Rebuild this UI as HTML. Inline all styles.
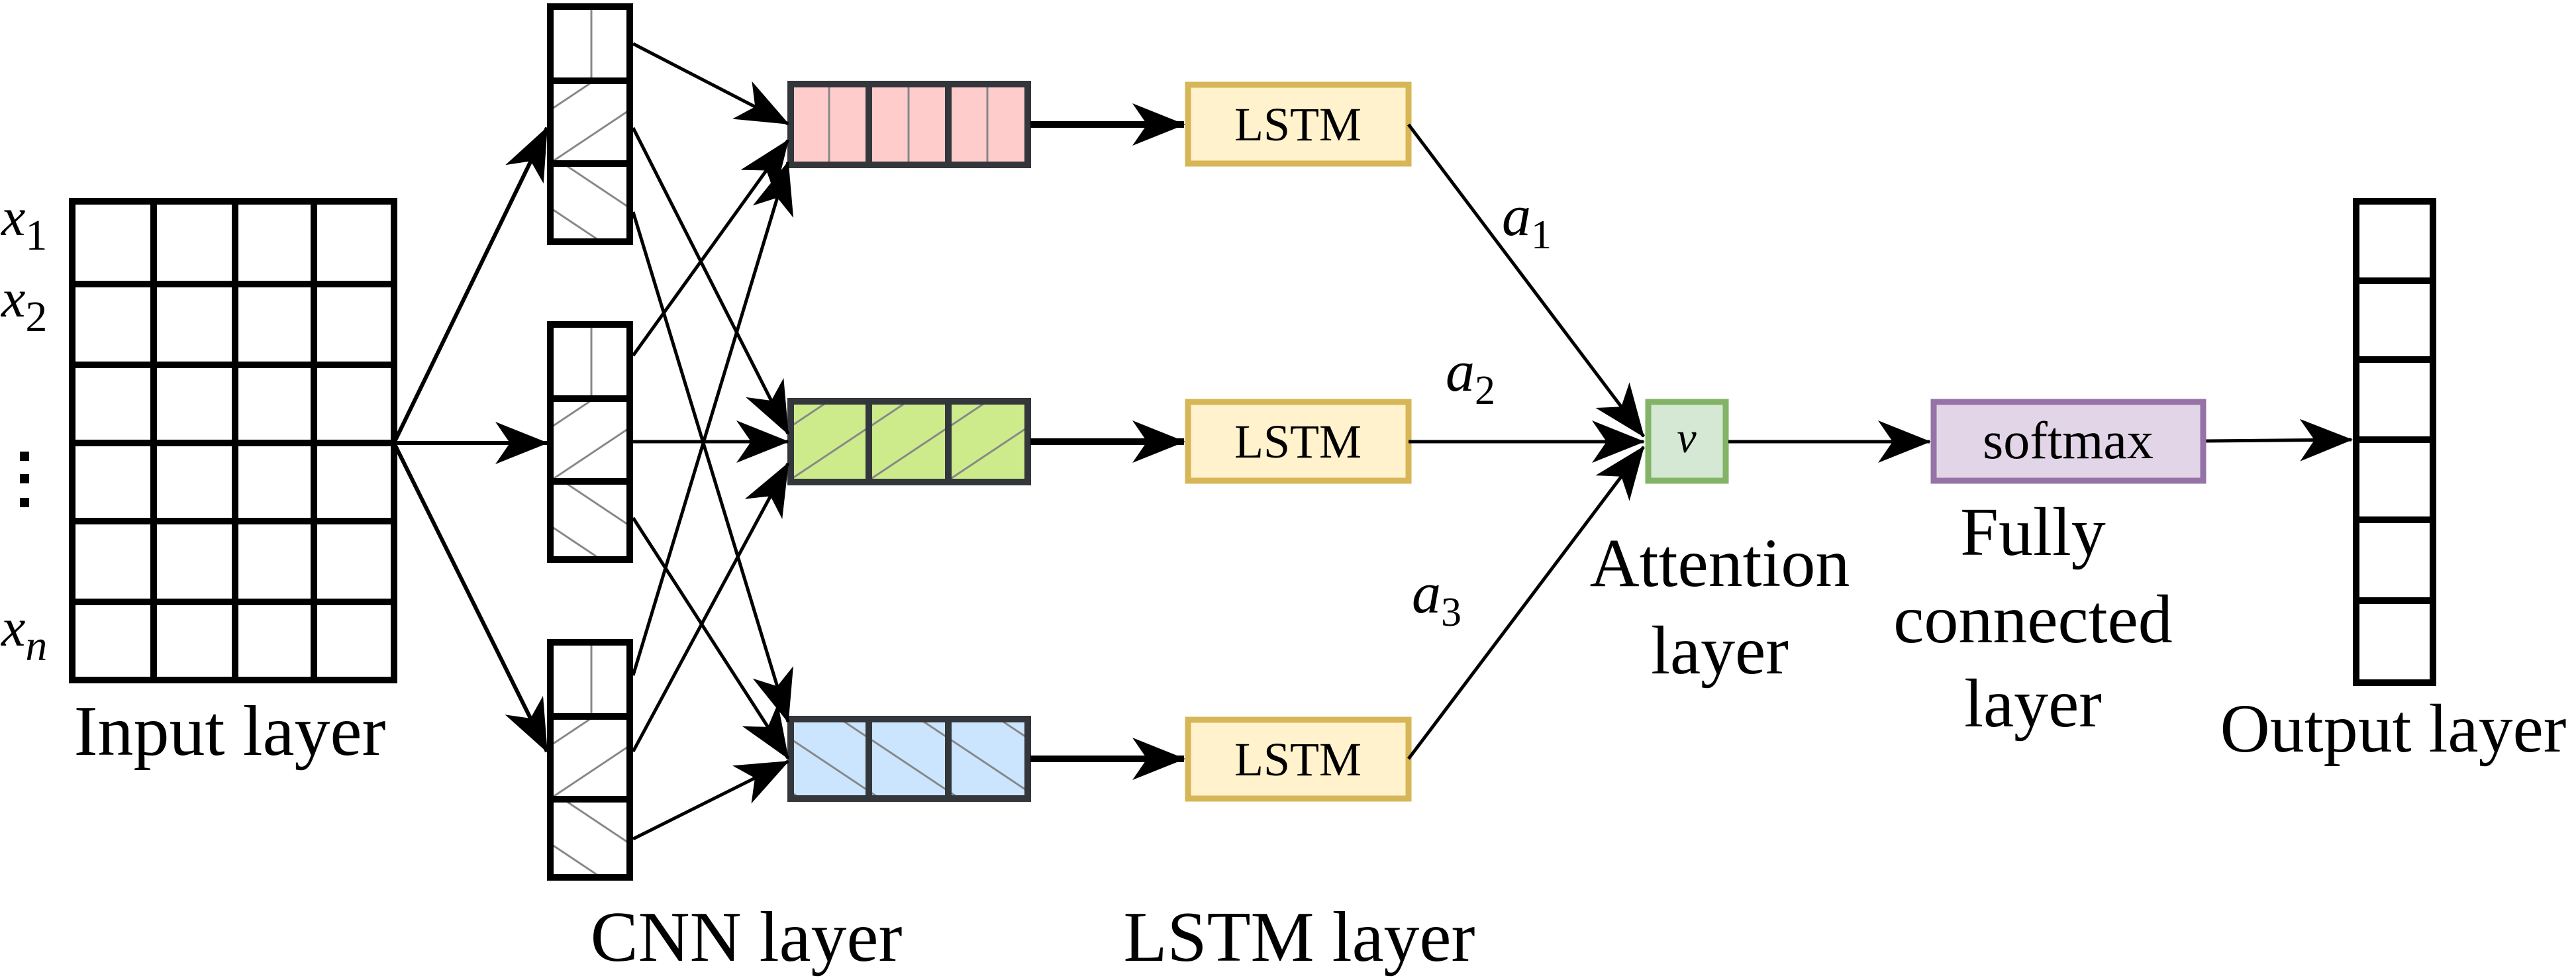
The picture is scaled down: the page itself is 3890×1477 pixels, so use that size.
<!DOCTYPE html>
<html><head><meta charset="utf-8"><style>html,body{margin:0;padding:0;background:#fff}svg{display:block}svg text{font-family:"Liberation Serif","Times New Roman",serif}</style></head>
<body>
<svg width="3890" height="1477" viewBox="0 0 3890 1477" xmlns="http://www.w3.org/2000/svg">
<defs>
<marker id="ar" markerUnits="userSpaceOnUse" markerWidth="80" markerHeight="64" refX="78" refY="32" orient="auto">
<path d="M0,0 L80,32 L0,64 L22,32 z" fill="#000"/>
</marker>
<pattern id="fw" patternUnits="userSpaceOnUse" width="120" height="80">
<line x1="0" y1="80" x2="120" y2="0" stroke="#888" stroke-width="3"/>
<line x1="-60" y1="40" x2="60" y2="-40" stroke="#888" stroke-width="3"/>
<line x1="60" y1="120" x2="180" y2="40" stroke="#888" stroke-width="3"/>
</pattern>
<pattern id="bw" patternUnits="userSpaceOnUse" width="120" height="80">
<line x1="0" y1="0" x2="120" y2="80" stroke="#888" stroke-width="3"/>
<line x1="-60" y1="40" x2="60" y2="120" stroke="#888" stroke-width="3"/>
<line x1="60" y1="-40" x2="180" y2="40" stroke="#888" stroke-width="3"/>
</pattern>
</defs>

<g stroke="#000" stroke-width="10" fill="none">
<rect x="109" y="304" width="486" height="723"/>
<line x1="232" y1="304" x2="232" y2="1027"/><line x1="355" y1="304" x2="355" y2="1027"/><line x1="474" y1="304" x2="474" y2="1027"/>
<line x1="109" y1="429" x2="595" y2="429"/><line x1="109" y1="551" x2="595" y2="551"/><line x1="109" y1="669" x2="595" y2="669"/><line x1="109" y1="787" x2="595" y2="787"/><line x1="109" y1="909" x2="595" y2="909"/>
</g>
<g font-size="82" font-style="italic">
<text x="2" y="355">x<tspan font-style="normal" dy="22" font-size="66">1</tspan></text>
<text x="2" y="478">x<tspan font-style="normal" dy="22" font-size="66">2</tspan></text>
<text x="2" y="975">x<tspan dy="22" font-size="66">n</tspan></text>
</g>
<rect x="30" y="682" width="14" height="14" fill="#000"/><rect x="30" y="716" width="14" height="14" fill="#000"/><rect x="30" y="752" width="14" height="14" fill="#000"/>
<text x="347" y="1140" font-size="108" text-anchor="middle">Input layer</text>

<g>
<g id="c1">
<rect x="831" y="122" width="120" height="125" fill="url(#fw)"/>
<rect x="831" y="247" width="120" height="118" fill="url(#bw)"/>
<line x1="893" y1="10" x2="893" y2="122" stroke="#888" stroke-width="3"/>
<rect x="831" y="10" width="120" height="355" fill="none" stroke="#000" stroke-width="10"/>
<line x1="826" y1="122" x2="956" y2="122" stroke="#000" stroke-width="10"/>
<line x1="826" y1="247" x2="956" y2="247" stroke="#000" stroke-width="10"/>
</g>
<use href="#c1" y="480"/>
<use href="#c1" y="960"/>
</g>
<text x="1127" y="1451" font-size="108" text-anchor="middle">CNN layer</text>

<g stroke="#000" stroke-width="6" marker-end="url(#ar)">
<line x1="595" y1="669" x2="826" y2="193"/>
<line x1="595" y1="669" x2="826" y2="669"/>
<line x1="595" y1="669" x2="826" y2="1135"/>
</g>

<g stroke="#33363a" stroke-width="10">
<rect x="1194" y="127" width="358" height="122" fill="#ffcccc"/>
<rect x="1194" y="606" width="358" height="122" fill="#cdeb8b"/>
<rect x="1194" y="606" width="358" height="122" fill="url(#fw)" stroke="none"/>
<rect x="1194" y="1086" width="358" height="120" fill="#cce5ff"/>
<rect x="1194" y="1086" width="358" height="120" fill="url(#bw)" stroke="none"/>
<rect x="1194" y="606" width="358" height="122" fill="none"/>
<rect x="1194" y="1086" width="358" height="120" fill="none"/>
<line x1="1312" y1="127" x2="1312" y2="249"/><line x1="1432" y1="127" x2="1432" y2="249"/>
<line x1="1312" y1="606" x2="1312" y2="728"/><line x1="1432" y1="606" x2="1432" y2="728"/>
<line x1="1312" y1="1086" x2="1312" y2="1206"/><line x1="1432" y1="1086" x2="1432" y2="1206"/>
</g>
<g stroke="#888" stroke-width="3">
<line x1="1252" y1="132" x2="1252" y2="244"/><line x1="1372" y1="132" x2="1372" y2="244"/><line x1="1491" y1="132" x2="1491" y2="244"/>
</g>

<g stroke="#000" stroke-width="5" marker-end="url(#ar)">
<line x1="956" y1="66" x2="1190" y2="187"/>
<line x1="956" y1="193" x2="1190" y2="655"/>
<line x1="956" y1="320" x2="1190" y2="1090"/>
<line x1="956" y1="537" x2="1190" y2="212"/>
<line x1="956" y1="667" x2="1190" y2="667"/>
<line x1="956" y1="782" x2="1190" y2="1145"/>
<line x1="956" y1="1020" x2="1190" y2="245"/>
<line x1="956" y1="1135" x2="1190" y2="700"/>
<line x1="956" y1="1267" x2="1190" y2="1150"/>
</g>

<g stroke="#000" stroke-width="10" marker-end="url(#ar)">
<line x1="1556" y1="188" x2="1788" y2="188"/>
<line x1="1556" y1="667" x2="1788" y2="667"/>
<line x1="1556" y1="1146" x2="1788" y2="1146"/>
</g>

<g stroke="#d6b656" stroke-width="9" fill="#fff2cc">
<rect x="1794" y="128" width="333" height="119"/>
<rect x="1794" y="607" width="333" height="119"/>
<rect x="1794" y="1087" width="333" height="119"/>
</g>
<g font-size="72" text-anchor="middle">
<text x="1960" y="212">LSTM</text>
<text x="1960" y="691">LSTM</text>
<text x="1960" y="1171">LSTM</text>
</g>
<text x="1962" y="1451" font-size="108" text-anchor="middle">LSTM layer</text>

<g stroke="#000" stroke-width="5" marker-end="url(#ar)">
<line x1="2127" y1="188" x2="2482" y2="659"/>
<line x1="2127" y1="667" x2="2482" y2="667"/>
<line x1="2127" y1="1146" x2="2482" y2="675"/>
</g>
<g font-size="88" font-style="italic">
<text x="2268" y="355">a<tspan font-style="normal" font-size="62" dy="20">1</tspan></text>
<text x="2183" y="590">a<tspan font-style="normal" font-size="62" dy="20">2</tspan></text>
<text x="2132" y="925">a<tspan font-style="normal" font-size="62" dy="20">3</tspan></text>
</g>

<rect x="2489" y="607" width="117" height="119" fill="#d5e8d4" stroke="#82b366" stroke-width="9"/>
<text x="2547" y="683" font-size="66" font-style="italic" text-anchor="middle">v</text>
<g font-size="104" text-anchor="middle">
<text x="2597" y="885">Attention</text>
<text x="2597" y="1017">layer</text>
</g>

<g stroke="#000" stroke-width="5" marker-end="url(#ar)">
<line x1="2610" y1="667" x2="2914" y2="667"/>
<line x1="3331" y1="666" x2="3551" y2="664"/>
</g>

<rect x="2920" y="607" width="407" height="119" fill="#e1d5e7" stroke="#9673a6" stroke-width="9"/>
<text x="3123" y="692" font-size="80" text-anchor="middle">softmax</text>
<g font-size="104" text-anchor="middle">
<text x="3070" y="838">Fully</text>
<text x="3070" y="970">connected</text>
<text x="3070" y="1097">layer</text>
</g>

<g stroke="#000" stroke-width="10" fill="none">
<rect x="3558" y="304" width="116" height="727"/>
<line x1="3553" y1="424" x2="3679" y2="424"/><line x1="3553" y1="543" x2="3679" y2="543"/><line x1="3553" y1="664" x2="3679" y2="664"/><line x1="3553" y1="785" x2="3679" y2="785"/><line x1="3553" y1="907" x2="3679" y2="907"/>
</g>
<text x="3614" y="1135" font-size="104" text-anchor="middle">Output layer</text>
</svg>
</body></html>
